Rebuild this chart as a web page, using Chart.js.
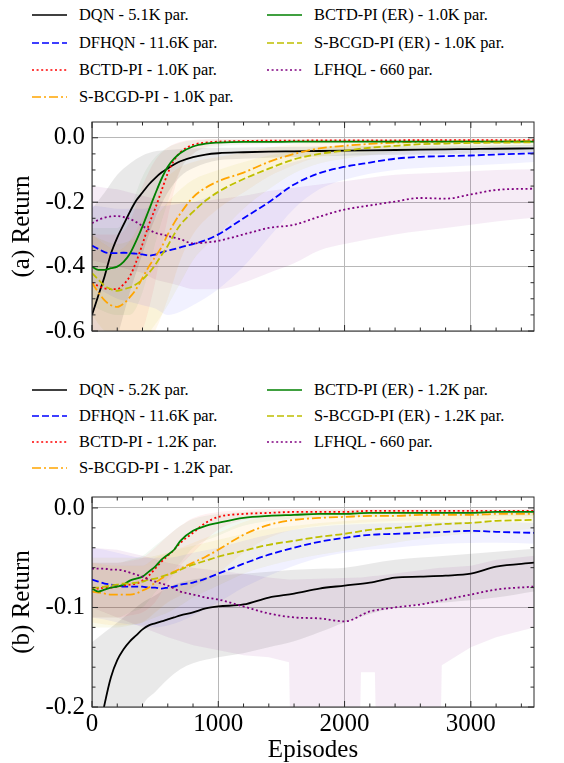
<!DOCTYPE html>
<html><head><meta charset="utf-8">
<script src="https://cdn.jsdelivr.net/npm/chart.js@4/dist/chart.umd.min.js"></script>
<style>
html,body{margin:0;padding:0;background:#fff;}
#wrap{position:relative;width:564px;height:763px;overflow:hidden;background:#fff;font-family:'Liberation Serif','Times New Roman',serif;}
canvas{position:absolute;left:0;}
.item{position:absolute;display:flex;align-items:center;height:20px;font-size:16.4px;line-height:20px;white-space:nowrap;color:#000;font-family:'Liberation Serif',serif;}
.item svg{margin-right:12px;flex:none;}
</style></head>
<body><div id="wrap">
<div id="legA"></div>
<canvas id="cA" width="564" height="265" style="top:100px"></canvas>
<div id="legB"></div>
<canvas id="cB" width="564" height="288" style="top:475px"></canvas>
</div>
<script>
// ---------------- DATA ----------------
const legendLabelsA = ['DQN - 5.1K par.','DFHQN - 11.6K par.','BCTD-PI - 1.0K par.','S-BCGD-PI - 1.0K par.','BCTD-PI (ER) - 1.0K par.','S-BCGD-PI (ER) - 1.0K par.','LFHQL - 660 par.'];
const legendLabelsB = ['DQN - 5.2K par.','DFHQN - 11.6K par.','BCTD-PI - 1.2K par.','S-BCGD-PI - 1.2K par.','BCTD-PI (ER) - 1.2K par.','S-BCGD-PI (ER) - 1.2K par.','LFHQL - 660 par.'];

const xMajorTicks = [0, 1000, 2000, 3000];
const xMinorTicks = [200,400,600,800,1200,1400,1600,1800,2200,2400,2600,2800,3200,3400];
const yMajorTicksA = [-0.6, -0.4, -0.2, 0.0];
const yMinorTicksA = [-0.55,-0.5,-0.45,-0.35,-0.3,-0.25,-0.15,-0.1,-0.05];
const yMajorTicksB = [-0.2, -0.1, 0.0];
const yMinorTicksB = [-0.18,-0.16,-0.14,-0.12,-0.08,-0.06,-0.04,-0.02];

const episodes = [0,50,100,150,200,250,300,350,400,450,500,550,600,650,700,800,900,1000,1200,1400,1600,1800,2000,2200,2400,2600,2800,3000,3200,3500];
const bandEpisodes = [0,100,200,300,400,500,600,700,800,1000,1200,1400,1600,1800,2000,2400,2800,3200,3500];

// Panel (a) mean returns
const dqnA     = [-0.55,-0.49,-0.43,-0.36,-0.31,-0.27,-0.23,-0.195,-0.17,-0.145,-0.125,-0.108,-0.095,-0.083,-0.073,-0.06,-0.052,-0.048,-0.045,-0.043,-0.042,-0.041,-0.04,-0.039,-0.038,-0.037,-0.036,-0.035,-0.034,-0.033];
const dfhqnA   = [-0.335,-0.345,-0.355,-0.358,-0.358,-0.357,-0.358,-0.36,-0.362,-0.366,-0.363,-0.356,-0.35,-0.346,-0.34,-0.33,-0.318,-0.3,-0.25,-0.2,-0.145,-0.11,-0.09,-0.077,-0.065,-0.059,-0.057,-0.055,-0.052,-0.048];
const bctdA    = [-0.45,-0.46,-0.468,-0.47,-0.47,-0.455,-0.43,-0.385,-0.33,-0.27,-0.22,-0.165,-0.11,-0.07,-0.045,-0.022,-0.015,-0.012,-0.01,-0.009,-0.009,-0.008,-0.008,-0.008,-0.008,-0.007,-0.007,-0.007,-0.007,-0.007];
const sbcgdA   = [-0.45,-0.48,-0.505,-0.52,-0.525,-0.515,-0.495,-0.47,-0.435,-0.4,-0.37,-0.34,-0.3,-0.265,-0.235,-0.185,-0.155,-0.135,-0.108,-0.075,-0.05,-0.033,-0.025,-0.019,-0.015,-0.013,-0.012,-0.011,-0.011,-0.01];
const bctdErA  = [-0.4,-0.41,-0.41,-0.405,-0.4,-0.385,-0.36,-0.32,-0.275,-0.225,-0.175,-0.128,-0.09,-0.065,-0.047,-0.027,-0.018,-0.015,-0.013,-0.013,-0.012,-0.012,-0.012,-0.012,-0.012,-0.012,-0.012,-0.012,-0.012,-0.012];
const sbcgdErA = [-0.42,-0.44,-0.46,-0.47,-0.475,-0.47,-0.465,-0.455,-0.44,-0.42,-0.395,-0.365,-0.335,-0.3,-0.27,-0.23,-0.195,-0.168,-0.128,-0.096,-0.067,-0.05,-0.04,-0.031,-0.025,-0.02,-0.018,-0.016,-0.015,-0.014];
const lfhqlA   = [-0.265,-0.255,-0.248,-0.244,-0.243,-0.246,-0.252,-0.262,-0.274,-0.285,-0.295,-0.3,-0.305,-0.31,-0.315,-0.328,-0.325,-0.32,-0.3,-0.28,-0.27,-0.245,-0.223,-0.21,-0.198,-0.187,-0.189,-0.176,-0.162,-0.158];

// Panel (a) shaded bands (lower / upper)
const dqnLoA     = [-0.85,-0.75,-0.62,-0.48,-0.36,-0.25,-0.17,-0.12,-0.095,-0.07,-0.065,-0.062,-0.06,-0.058,-0.056,-0.053,-0.05,-0.048,-0.045];
const dqnHiA     = [-0.22,-0.17,-0.115,-0.08,-0.055,-0.042,-0.038,-0.035,-0.033,-0.031,-0.03,-0.029,-0.028,-0.027,-0.026,-0.025,-0.024,-0.023,-0.022];
const dfhqnLoA   = [-0.46,-0.48,-0.5,-0.51,-0.52,-0.53,-0.55,-0.54,-0.52,-0.47,-0.4,-0.31,-0.22,-0.16,-0.13,-0.1,-0.09,-0.082,-0.075];
const dfhqnHiA   = [-0.21,-0.215,-0.22,-0.22,-0.22,-0.215,-0.21,-0.205,-0.2,-0.17,-0.13,-0.1,-0.075,-0.06,-0.05,-0.04,-0.036,-0.033,-0.03];
const bctdLoA    = [-0.6,-0.65,-0.68,-0.68,-0.6,-0.45,-0.25,-0.1,-0.05,-0.022,-0.018,-0.016,-0.015,-0.015,-0.014,-0.014,-0.013,-0.013,-0.013];
const bctdHiA    = [-0.3,-0.3,-0.3,-0.26,-0.15,-0.07,-0.03,-0.012,-0.006,-0.004,-0.004,-0.003,-0.003,-0.003,-0.003,-0.003,-0.002,-0.002,-0.002];
const sbcgdLoA   = [-0.6,-0.66,-0.7,-0.7,-0.65,-0.6,-0.5,-0.38,-0.3,-0.22,-0.17,-0.12,-0.085,-0.06,-0.045,-0.028,-0.022,-0.019,-0.016];
const sbcgdHiA   = [-0.3,-0.33,-0.35,-0.32,-0.25,-0.17,-0.12,-0.09,-0.075,-0.06,-0.045,-0.03,-0.02,-0.013,-0.01,-0.007,-0.006,-0.005,-0.005];
const bctdErLoA  = [-0.52,-0.54,-0.55,-0.55,-0.48,-0.33,-0.2,-0.1,-0.05,-0.028,-0.022,-0.02,-0.019,-0.018,-0.018,-0.018,-0.017,-0.017,-0.017];
const bctdErHiA  = [-0.28,-0.28,-0.28,-0.22,-0.12,-0.06,-0.03,-0.015,-0.008,-0.005,-0.005,-0.005,-0.005,-0.005,-0.005,-0.005,-0.005,-0.005,-0.005];
const sbcgdErLoA = [-0.55,-0.6,-0.62,-0.62,-0.62,-0.58,-0.52,-0.45,-0.38,-0.3,-0.22,-0.16,-0.11,-0.08,-0.065,-0.045,-0.035,-0.028,-0.025];
const sbcgdErHiA = [-0.3,-0.32,-0.33,-0.32,-0.3,-0.25,-0.2,-0.16,-0.13,-0.1,-0.075,-0.055,-0.04,-0.03,-0.022,-0.014,-0.01,-0.008,-0.007];
const lfhqlLoA   = [-0.38,-0.39,-0.4,-0.41,-0.42,-0.44,-0.45,-0.46,-0.47,-0.47,-0.45,-0.42,-0.39,-0.35,-0.33,-0.3,-0.28,-0.26,-0.248];
const lfhqlHiA   = [-0.15,-0.155,-0.16,-0.17,-0.18,-0.19,-0.2,-0.2,-0.2,-0.19,-0.18,-0.165,-0.155,-0.145,-0.135,-0.115,-0.108,-0.1,-0.098];

// Panel (b) mean returns
const dqnB     = [-0.26,-0.23,-0.197,-0.17,-0.153,-0.142,-0.134,-0.128,-0.122,-0.118,-0.116,-0.114,-0.112,-0.11,-0.108,-0.105,-0.101,-0.099,-0.097,-0.09,-0.086,-0.081,-0.078,-0.075,-0.07,-0.069,-0.068,-0.066,-0.059,-0.055];
const dfhqnB   = [-0.072,-0.074,-0.076,-0.077,-0.078,-0.079,-0.079,-0.079,-0.079,-0.08,-0.08,-0.081,-0.08,-0.079,-0.077,-0.075,-0.071,-0.066,-0.056,-0.047,-0.04,-0.034,-0.03,-0.027,-0.026,-0.025,-0.024,-0.023,-0.024,-0.025];
const bctdB    = [-0.081,-0.081,-0.08,-0.08,-0.079,-0.078,-0.077,-0.076,-0.073,-0.068,-0.061,-0.054,-0.048,-0.042,-0.035,-0.025,-0.015,-0.009,-0.006,-0.005,-0.004,-0.004,-0.004,-0.003,-0.003,-0.003,-0.003,-0.003,-0.003,-0.003];
const sbcgdB   = [-0.084,-0.085,-0.086,-0.087,-0.087,-0.087,-0.087,-0.086,-0.083,-0.08,-0.075,-0.071,-0.067,-0.064,-0.061,-0.055,-0.049,-0.042,-0.027,-0.017,-0.012,-0.01,-0.009,-0.008,-0.008,-0.007,-0.007,-0.007,-0.006,-0.006];
const bctdErB  = [-0.081,-0.084,-0.082,-0.08,-0.079,-0.077,-0.073,-0.071,-0.069,-0.064,-0.059,-0.052,-0.047,-0.042,-0.033,-0.023,-0.018,-0.015,-0.01,-0.008,-0.007,-0.006,-0.006,-0.005,-0.005,-0.005,-0.005,-0.005,-0.004,-0.004];
const sbcgdErB = [-0.08,-0.08,-0.079,-0.078,-0.077,-0.076,-0.076,-0.075,-0.074,-0.072,-0.071,-0.069,-0.067,-0.065,-0.062,-0.057,-0.053,-0.049,-0.043,-0.037,-0.033,-0.029,-0.026,-0.022,-0.02,-0.018,-0.016,-0.015,-0.013,-0.012];
const lfhqlB   = [-0.061,-0.061,-0.061,-0.062,-0.062,-0.063,-0.065,-0.067,-0.069,-0.072,-0.074,-0.076,-0.078,-0.081,-0.084,-0.087,-0.09,-0.092,-0.099,-0.106,-0.11,-0.111,-0.114,-0.104,-0.1,-0.097,-0.092,-0.087,-0.082,-0.079];

// Panel (b) shaded bands (lower / upper)
const dqnLoB     = [-0.42,-0.36,-0.3,-0.25,-0.2,-0.185,-0.172,-0.162,-0.156,-0.15,-0.146,-0.14,-0.134,-0.125,-0.115,-0.1,-0.095,-0.09,-0.084];
const dqnHiB     = [-0.135,-0.125,-0.115,-0.105,-0.095,-0.088,-0.08,-0.075,-0.072,-0.068,-0.066,-0.064,-0.062,-0.061,-0.06,-0.052,-0.048,-0.044,-0.041];
const dfhqnLoB   = [-0.11,-0.112,-0.115,-0.117,-0.118,-0.12,-0.118,-0.114,-0.108,-0.095,-0.08,-0.068,-0.058,-0.05,-0.045,-0.04,-0.036,-0.035,-0.036];
const dfhqnHiB   = [-0.04,-0.042,-0.045,-0.048,-0.05,-0.05,-0.05,-0.048,-0.045,-0.04,-0.033,-0.027,-0.022,-0.019,-0.017,-0.015,-0.014,-0.014,-0.015];
const bctdLoB    = [-0.11,-0.11,-0.11,-0.108,-0.105,-0.095,-0.075,-0.058,-0.045,-0.022,-0.012,-0.009,-0.008,-0.007,-0.007,-0.006,-0.006,-0.006,-0.006];
const bctdHiB    = [-0.055,-0.055,-0.055,-0.053,-0.05,-0.04,-0.028,-0.018,-0.01,-0.004,-0.002,-0.001,-0.001,-0.001,-0.001,-0.001,-0.001,-0.001,-0.001];
const sbcgdLoB   = [-0.115,-0.117,-0.118,-0.117,-0.115,-0.105,-0.095,-0.088,-0.08,-0.065,-0.045,-0.03,-0.022,-0.018,-0.016,-0.013,-0.012,-0.011,-0.01];
const sbcgdHiB   = [-0.055,-0.057,-0.058,-0.058,-0.058,-0.05,-0.045,-0.04,-0.035,-0.025,-0.014,-0.008,-0.005,-0.004,-0.004,-0.003,-0.003,-0.003,-0.003];
const bctdErLoB  = [-0.11,-0.11,-0.11,-0.105,-0.1,-0.085,-0.07,-0.055,-0.04,-0.028,-0.018,-0.013,-0.011,-0.01,-0.009,-0.009,-0.008,-0.008,-0.008];
const bctdErHiB  = [-0.055,-0.055,-0.055,-0.052,-0.048,-0.038,-0.028,-0.018,-0.011,-0.006,-0.004,-0.003,-0.003,-0.002,-0.002,-0.002,-0.002,-0.002,-0.002];
const sbcgdErLoB = [-0.12,-0.12,-0.12,-0.118,-0.115,-0.11,-0.105,-0.098,-0.09,-0.078,-0.066,-0.058,-0.052,-0.047,-0.043,-0.035,-0.028,-0.024,-0.021];
const sbcgdErHiB = [-0.05,-0.05,-0.05,-0.05,-0.05,-0.048,-0.045,-0.041,-0.038,-0.032,-0.026,-0.021,-0.018,-0.015,-0.013,-0.01,-0.008,-0.007,-0.006];
const lfhqlBandEpisodesB = [0,200,400,600,800,1000,1200,1400,1560,1580,2110,2130,2240,2260,2750,2770,3000,3200,3500];
const lfhqlLoB   = [-0.1,-0.11,-0.12,-0.13,-0.138,-0.143,-0.148,-0.15,-0.155,-0.3,-0.3,-0.165,-0.165,-0.3,-0.3,-0.158,-0.14,-0.13,-0.12];
const lfhqlHiB   = [-0.04,-0.042,-0.048,-0.055,-0.06,-0.063,-0.066,-0.07,-0.072,-0.072,-0.07,-0.07,-0.068,-0.068,-0.06,-0.06,-0.058,-0.052,-0.048];

// ---------------- STYLES ----------------
const styles = [
  {color:'#000000', band:'rgba(0,0,0,0.085)',     dash:[]},
  {color:'#0000ff', band:'rgba(0,0,255,0.055)',   dash:[7,3]},
  {color:'#ff0000', band:'rgba(255,0,0,0.055)',   dash:[2,2.6]},
  {color:'#ffa500', band:'rgba(255,165,0,0.08)',  dash:[9,3,2,3]},
  {color:'#008000', band:'rgba(0,128,0,0.055)',   dash:[]},
  {color:'#bfbf00', band:'rgba(191,191,0,0.08)',  dash:[7,3]},
  {color:'#800080', band:'rgba(128,0,128,0.075)', dash:[2,2.6]}
];
const FONT = "'Liberation Serif', 'Times New Roman', serif";

function buildLegend(el, labels, rowY) {
  labels.forEach((lab, i) => {
    const col = i < 4 ? 0 : 1, row = i < 4 ? i : i - 4;
    const st = styles[i];
    const d = document.createElement('div');
    d.className = 'item';
    d.style.left = (col === 0 ? 32 : 267) + 'px';
    d.style.top = (rowY[row] - 10) + 'px';
    d.innerHTML = '<svg width="35" height="6"><line x1="0" y1="3" x2="35" y2="3" stroke="' + st.color +
      '" stroke-width="1.6" stroke-dasharray="' + (st.dash.length ? st.dash.join(',') : 'none') + '"/></svg><span>' + lab + '</span>';
    el.appendChild(d);
  });
}
buildLegend(document.getElementById('legA'), legendLabelsA, [15, 43, 70, 97]);
buildLegend(document.getElementById('legB'), legendLabelsB, [390, 416, 442, 468]);

const framePlugin = {
  id: 'frame',
  afterDraw(chart, args, o) {
    const {ctx, chartArea: a, scales: {x, y}} = chart;
    ctx.save();
    ctx.strokeStyle = '#2b2b2b';
    ctx.lineWidth = 1;
    const seg = (x1, y1, x2, y2) => { ctx.beginPath(); ctx.moveTo(x1, y1); ctx.lineTo(x2, y2); ctx.stroke(); };
    const xt = (vals, len) => vals.forEach(v => { const p = x.getPixelForValue(v); seg(p, a.bottom, p, a.bottom - len); seg(p, a.top, p, a.top + len); });
    const yt = (vals, len) => vals.forEach(v => { const p = y.getPixelForValue(v); seg(a.left, p, a.left + len, p); seg(a.right, p, a.right - len, p); });
    xt(o.xMajor, 6); xt(o.xMinor, 3.5); yt(o.yMajor, 6); yt(o.yMinor, 3.5);
    ctx.strokeRect(a.left, a.top, a.right - a.left, a.bottom - a.top);
    ctx.restore();
  }
};

function makeChart(canvas, cfg) {
  const datasets = [];
  cfg.bands.forEach((b, i) => {
    const st = styles[i];
    const mode = b.straight ? 'default' : 'monotone';
    datasets.push({data: b.x.map((xv, j) => ({x: xv, y: b.lo[j]})), borderWidth: 0, pointRadius: 0, fill: false,
      order: 20, cubicInterpolationMode: mode, tension: 0});
    datasets.push({data: b.x.map((xv, j) => ({x: xv, y: b.hi[j]})), borderWidth: 0, pointRadius: 0, fill: '-1',
      backgroundColor: st.band, order: 20, cubicInterpolationMode: mode, tension: 0});
  });
  cfg.lines.forEach((vals, i) => {
    const st = styles[i];
    datasets.push({label: cfg.labels[i], data: episodes.map((xv, j) => ({x: xv, y: vals[j]})),
      borderColor: st.color, borderWidth: 1.8, borderDash: st.dash, pointRadius: 0, fill: false,
      order: 10 - i, cubicInterpolationMode: 'monotone'});
  });
  const tickFont = {family: FONT, size: 25};
  return new Chart(canvas, {
    type: 'line',
    data: {datasets},
    options: {
      responsive: false, animation: false, devicePixelRatio: 1,
      layout: {padding: {top: 20, right: 30, left: 0, bottom: 0}},
      plugins: {legend: {display: false}, tooltip: {enabled: false},
        frame: {xMajor: xMajorTicks, xMinor: xMinorTicks, yMajor: cfg.yMajor, yMinor: cfg.yMinor}},
      scales: {
        x: {type: 'linear', min: 0, max: 3500,
          afterBuildTicks: s => { s.ticks = xMajorTicks.map(v => ({value: v})); },
          afterFit: s => { s.height = cfg.xHeight; },
          grid: {color: '#b8b8b8', lineWidth: 1, drawTicks: false},
          border: {display: false},
          ticks: {display: cfg.showX, font: tickFont, color: '#000', padding: 2, maxRotation: 0, autoSkip: false,
            callback: v => String(v)},
          title: {display: cfg.showX, text: 'Episodes', font: {family: FONT, size: 25, lineHeight: 1}, color: '#000', padding: 0}
        },
        y: {type: 'linear', min: cfg.yMin, max: cfg.yMax,
          afterBuildTicks: s => { s.ticks = cfg.yMajor.map(v => ({value: v})); },
          afterFit: s => { s.width = 92; },
          grid: {color: '#b8b8b8', lineWidth: 1, drawTicks: false},
          border: {display: false},
          ticks: {font: tickFont, color: '#000', padding: 7, callback: v => v.toFixed(1)},
          title: {display: true, text: cfg.yTitle, font: {family: FONT, size: 25, lineHeight: 1}, color: '#000', padding: {top: 10}}
        }
      }
    },
    plugins: [framePlugin]
  });
}

makeChart(document.getElementById('cA'), {
  labels: legendLabelsA, yTitle: '(a) Return', yMin: -0.6, yMax: 0.049,
  yMajor: yMajorTicksA, yMinor: yMinorTicksA, showX: false, xHeight: 34,
  lines: [dqnA, dfhqnA, bctdA, sbcgdA, bctdErA, sbcgdErA, lfhqlA],
  bands: [
    {x: bandEpisodes, lo: dqnLoA, hi: dqnHiA},
    {x: bandEpisodes, lo: dfhqnLoA, hi: dfhqnHiA},
    {x: bandEpisodes, lo: bctdLoA, hi: bctdHiA},
    {x: bandEpisodes, lo: sbcgdLoA, hi: sbcgdHiA},
    {x: bandEpisodes, lo: bctdErLoA, hi: bctdErHiA},
    {x: bandEpisodes, lo: sbcgdErLoA, hi: sbcgdErHiA},
    {x: bandEpisodes, lo: lfhqlLoA, hi: lfhqlHiA}
  ]
});

makeChart(document.getElementById('cB'), {
  labels: legendLabelsB, yTitle: '(b) Return', yMin: -0.2, yMax: 0.011,
  yMajor: yMajorTicksB, yMinor: yMinorTicksB, showX: true, xHeight: 56,
  lines: [dqnB, dfhqnB, bctdB, sbcgdB, bctdErB, sbcgdErB, lfhqlB],
  bands: [
    {x: bandEpisodes, lo: dqnLoB, hi: dqnHiB},
    {x: bandEpisodes, lo: dfhqnLoB, hi: dfhqnHiB},
    {x: bandEpisodes, lo: bctdLoB, hi: bctdHiB},
    {x: bandEpisodes, lo: sbcgdLoB, hi: sbcgdHiB},
    {x: bandEpisodes, lo: bctdErLoB, hi: bctdErHiB},
    {x: bandEpisodes, lo: sbcgdErLoB, hi: sbcgdErHiB},
    {x: lfhqlBandEpisodesB, lo: lfhqlLoB, hi: lfhqlHiB, straight: true}
  ]
});
</script>
</body></html>
